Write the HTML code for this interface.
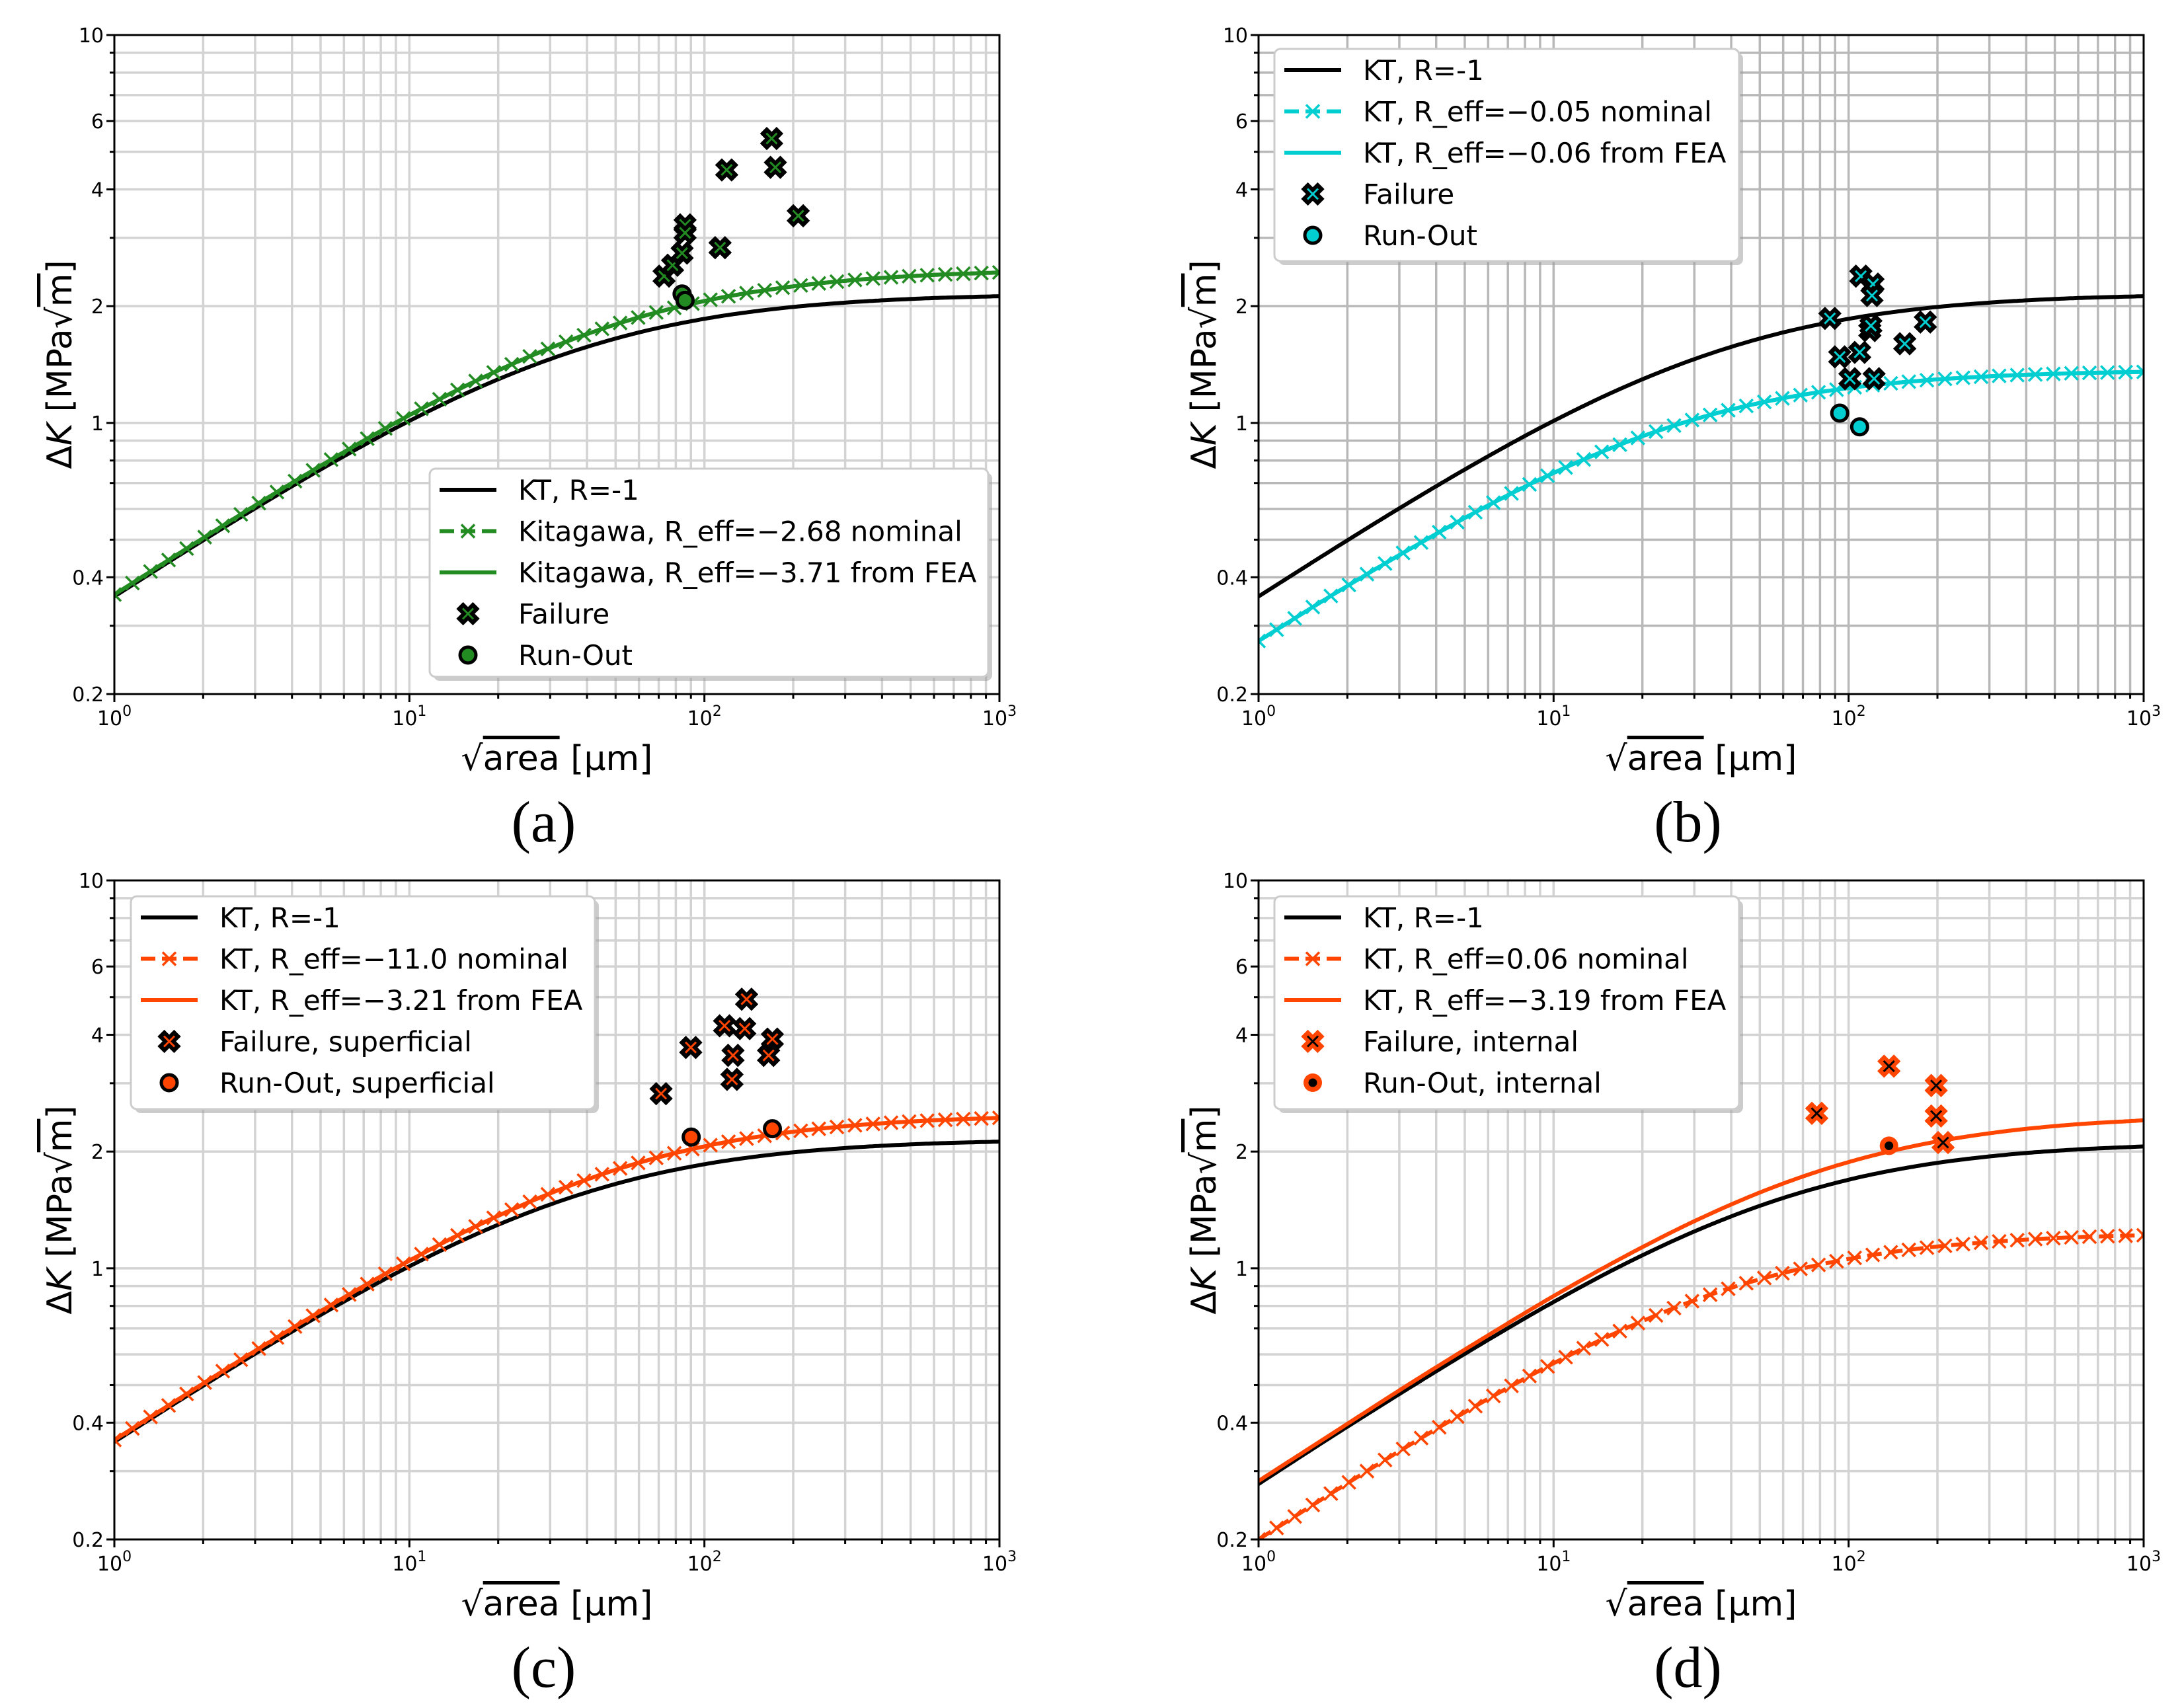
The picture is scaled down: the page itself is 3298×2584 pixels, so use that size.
<!DOCTYPE html>
<html><head><meta charset="utf-8"><style>
html,body{margin:0;padding:0;background:#fff;}
svg{display:block;}
</style></head><body>
<svg id="fig" xmlns="http://www.w3.org/2000/svg" width="3298" height="2584" viewBox="0 0 3298 2584"></svg>
<script>
// ---------- data ----------
const xSamples = [1,1.778,3.162,5.623,10,17.78,31.62,56.23,100,177.8,316.2,562.3,1000];
const ktBase = [0.357,0.471,0.617,0.798,1.012,1.247,1.481,1.690,1.855,1.972,2.048,2.095,2.122];
const kitaGreen = [0.361,0.477,0.628,0.817,1.047,1.310,1.585,1.845,2.062,2.223,2.333,2.402,2.443];
const cyanNominal = [0.274,0.360,0.467,0.597,0.743,0.894,1.033,1.147,1.230,1.286,1.321,1.342,1.354];
const orangeC = [0.361,0.477,0.628,0.817,1.047,1.310,1.585,1.845,2.062,2.223,2.333,2.402,2.443];
const ktD = [0.278,0.369,0.486,0.635,0.819,1.034,1.266,1.494,1.692,1.845,1.951,2.020,2.062];
const orangeFeaD = [0.283,0.375,0.497,0.652,0.848,1.082,1.348,1.624,1.879,2.088,2.241,2.344,2.408];
const orangeNomD = [0.200,0.264,0.346,0.448,0.569,0.703,0.839,0.960,1.057,1.127,1.172,1.201,1.217];

const failAx = [73,78,84,86,86,113,119,169,174,208];
const failAy = [2.39,2.55,2.74,3.24,3.09,2.83,4.49,5.41,4.56,3.42];
const runAx = [84,86];
const runAy = [2.15,2.07];

const failBx = [110,121,120,86.4,118,119,182,155,93.3,109,101,122];
const failBy = [2.39,2.28,2.13,1.86,1.73,1.78,1.82,1.60,1.48,1.52,1.30,1.30];
const runBx = [93.3,109];
const runBy = [1.06,0.977];

const failCx = [139,117,137,170,165,89.9,125,124,71.3];
const failCy = [4.94,4.22,4.15,3.90,3.54,3.71,3.54,3.07,2.82];
const runCx = [90.2,170];
const runCy = [2.18,2.29];

const failDx = [78,137,198,198,209];
const failDy = [2.51,3.32,2.96,2.47,2.11];
const runDx = [137];
const runDy = [2.07];

const yTickVals = [0.2,0.4,1,2,4,6,10];
const yTickLabels = ["0.2","0.4","1","2","4","6","10"];
const xTickExp = [0,1,2,3];

// ---------- helpers ----------
const NS = "http://www.w3.org/2000/svg";
const svg = document.getElementById('fig');
function mk(tag, attrs, parent) {
  const e = document.createElementNS(NS, tag);
  for (const k in attrs) e.setAttribute(k, attrs[k]);
  (parent || svg).appendChild(e);
  return e;
}
const W = 1339, H = 997;
const BLACK = "#000", GREEN = "#228B22", CYAN = "#00CED1", ORANGE = "#FF4500";

function interpLog(vals, x) {
  const t = Math.log10(x) * 4;
  const n = vals.length;
  let i = Math.floor(t); if (i >= n - 1) i = n - 2; if (i < 0) i = 0;
  const u = t - i;
  const L = vals.map(v => Math.log10(v));
  const p0 = L[Math.max(i - 1, 0)], p1 = L[i], p2 = L[i + 1], p3 = L[Math.min(i + 2, n - 1)];
  const m1 = (p2 - p0) / (i === 0 ? 1 : 2), m2 = (p3 - p1) / (i + 1 === n - 1 ? 1 : 2);
  const u2 = u * u, u3 = u2 * u;
  const v = (2*u3 - 3*u2 + 1) * p1 + (u3 - 2*u2 + u) * m1 + (-2*u3 + 3*u2) * p2 + (u3 - u2) * m2;
  return Math.pow(10, v);
}

function drawX(g, cx, cy, fill, inner) {
  const r = 17, a = 6.5;
  const pts = [[-a,-r],[a,-r],[a,-a],[r,-a],[r,a],[a,a],[a,r],[-a,r],[-a,a],[-r,a],[-r,-a],[-a,-a]];
  const c = Math.SQRT1_2;
  const s = pts.map(p => ((p[0]-p[1])*c + cx).toFixed(1) + "," + ((p[0]+p[1])*c + cy).toFixed(1)).join(" ");
  mk('polygon', {points: s, fill: fill, stroke: fill, 'stroke-width': 1.5, 'stroke-linejoin': 'miter'}, g);
  const d = 8;
  mk('path', {d: `M${cx-d},${cy-d}L${cx+d},${cy+d}M${cx-d},${cy+d}L${cx+d},${cy-d}`, stroke: inner, 'stroke-width': 3, fill: 'none'}, g);
}
function drawRun(g, cx, cy, color, internal) {
  if (internal) {
    mk('circle', {cx: cx, cy: cy, r: 14, fill: color}, g);
    mk('circle', {cx: cx, cy: cy, r: 6.5, fill: BLACK}, g);
  } else {
    mk('circle', {cx: cx, cy: cy, r: 12, fill: color, stroke: BLACK, 'stroke-width': 5}, g);
  }
}
function drawXmark(g, cx, cy, color) {
  const d = 10;
  mk('path', {d: `M${cx-d},${cy-d}L${cx+d},${cy+d}M${cx-d},${cy+d}L${cx+d},${cy-d}`, stroke: color, 'stroke-width': 3.5, fill: 'none'}, g);
}

function panel(cfg) {
  const x0 = cfg.x0, y0 = cfg.y0;
  const sx = v => x0 + Math.log10(v) / 3 * W;
  const sy = v => y0 + (1 - Math.log10(v / 0.2) / Math.log10(50)) * H;
  const g = mk('g', {});
  
  
  const clipId = 'clip-' + cfg.name;
  const cp = mk('clipPath', {id: clipId}, g);
  mk('rect', {x: x0, y: y0, width: W, height: H}, cp);

  const grid = mk('g', {stroke: cfg.grid, 'stroke-width': 3.5});
  
  
  g.appendChild(grid);
  for (let e = 0; e < 3; e++) for (let m = 1; m <= 9; m++) {
    const v = m * Math.pow(10, e); if (v === 1) continue;
    mk('line', {x1: sx(v), x2: sx(v), y1: y0, y2: y0 + H}, grid);
  }
  const yg = [0.3,0.4,0.5,0.6,0.7,0.8,0.9,1,2,3,4,5,6,7,8,9];
  yg.forEach(v => mk('line', {x1: x0, x2: x0 + W, y1: sy(v), y2: sy(v)}, grid));

  const plot = mk('g', {'clip-path': `url(#${clipId})`}, g);
  cfg.series.forEach(s => {
    let d = "";
    for (let i = 0; i <= 300; i++) {
      const xv = Math.pow(10, 3 * i / 300);
      d += (i ? "L" : "M") + sx(xv).toFixed(1) + "," + sy(interpLog(s.vals, xv)).toFixed(1);
    }
    const p = mk('path', {d: d, fill: 'none', stroke: s.color, 'stroke-width': 6, 'stroke-linejoin': 'round'}, plot);
    if (s.dashed) p.setAttribute('stroke-dasharray', '22,10');
    
    
    if (s.markers) {
      for (let i = 0; i < 50; i++) {
        const xv = Math.pow(10, 3 * i / 49);
        drawXmark(plot, sx(xv), sy(interpLog(s.vals, xv)), s.color);
      }
    }
  });
  const sc = mk('g', {}, g);
  
  
  cfg.failX.forEach((xv, i) => {
    if (cfg.internal) drawX(sc, sx(xv), sy(cfg.failY[i]), cfg.color, BLACK);
    else drawX(sc, sx(xv), sy(cfg.failY[i]), BLACK, cfg.color);
  });
  cfg.runX.forEach((xv, i) => drawRun(sc, sx(xv), sy(cfg.runY[i]), cfg.color, cfg.internal));

  const fr = mk('rect', {x: x0, y: y0, width: W, height: H, fill: 'none', stroke: BLACK, 'stroke-width': 3});
  
  
  g.appendChild(fr);

  const tk = mk('g', {stroke: BLACK, 'stroke-width': 3}, g);
  for (let e = 0; e < 3; e++) for (let m = 2; m <= 9; m++) {
    const xx = sx(m * Math.pow(10, e));
    mk('line', {x1: xx, x2: xx, y1: y0 + H, y2: y0 + H + 7}, tk);
  }
  xTickExp.forEach(e => { const xx = sx(Math.pow(10, e)); mk('line', {x1: xx, x2: xx, y1: y0 + H, y2: y0 + H + 12}, tk); });
  [0.3,0.5,0.7,0.8,0.9,3,5,7,8,9].forEach(v => mk('line', {x1: x0 - 7, x2: x0, y1: sy(v), y2: sy(v)}, tk));
  yTickVals.forEach(v => mk('line', {x1: x0 - 12, x2: x0, y1: sy(v), y2: sy(v)}, tk));

  yTickVals.forEach((v, i) => {
    const t = mk('text', {x: x0 - 16, y: sy(v) + 11, 'text-anchor': 'end', 'font-family': 'DejaVu Sans, Liberation Sans, sans-serif', 'font-size': 30, fill: BLACK}, g);
    t.textContent = yTickLabels[i];
    
    
  });
  xTickExp.forEach(e => {
    const t = mk('text', {x: sx(Math.pow(10, e)), y: y0 + H + 47, 'text-anchor': 'middle', 'font-family': 'DejaVu Sans, Liberation Sans, sans-serif', 'font-size': 30, fill: BLACK}, g);
    
    
    const a = mk('tspan', {}, t); a.textContent = "10";
    const b = mk('tspan', {dy: -14, 'font-size': 22}, t); b.textContent = String(e);
  });

  const yl = mk('text', {x: 0, y: 0, transform: `translate(${x0 - 65},${y0 + H / 2}) rotate(-90)`, 'text-anchor': 'middle', 'font-family': 'DejaVu Sans, Liberation Sans, sans-serif', 'font-size': 52, fill: BLACK}, g);
  
  
  mk('tspan', {}, yl).textContent = "Δ";
  mk('tspan', {'font-style': 'italic'}, yl).textContent = "K";
  mk('tspan', {}, yl).textContent = " [MPa√";
  mk('tspan', {'text-decoration': 'overline'}, yl).textContent = "m";
  mk('tspan', {}, yl).textContent = "]";

  const xl = mk('text', {x: x0 + W / 2, y: y0 + H + 115, 'text-anchor': 'middle', 'font-family': 'DejaVu Sans, Liberation Sans, sans-serif', 'font-size': 52, fill: BLACK}, g);
  
  
  mk('tspan', {}, xl).textContent = "√";
  mk('tspan', {'text-decoration': 'overline'}, xl).textContent = "area";
  mk('tspan', {}, xl).textContent = " [μm]";

  const cap = mk('text', {x: x0 + W / 2 - 20, y: y0 + H + 223, 'text-anchor': 'middle', 'font-family': 'Liberation Serif, serif', 'font-size': 88, fill: BLACK}, g);
  cap.textContent = cfg.caption;
  
  

  const L = cfg.legend;
  const lg = mk('g', {}, g);
  
  
  mk('rect', {x: L.x + 6, y: L.y + 6, width: L.w, height: L.h, rx: 9, fill: '#999', opacity: 0.5}, lg);
  mk('rect', {x: L.x, y: L.y, width: L.w, height: L.h, rx: 9, fill: '#fff', stroke: '#cccccc', 'stroke-width': 3}, lg);
  L.items.forEach((it, i) => {
    const cy = L.y + 32 + i * 62.5;
    const lx1 = L.x + 15, lx2 = L.x + 101, lc = (lx1 + lx2) / 2;
    const e = mk('g', {}, lg);
    
    
    if (it.type === 'line') mk('line', {x1: lx1, x2: lx2, y1: cy, y2: cy, stroke: it.color, 'stroke-width': 6}, e);
    if (it.type === 'dashx') {
      mk('line', {x1: lx1, x2: lx2, y1: cy, y2: cy, stroke: it.color, 'stroke-width': 6, 'stroke-dasharray': '22,10'}, e);
      drawXmark(e, lc, cy, it.color);
    }
    if (it.type === 'fail') { if (cfg.internal) drawX(e, lc, cy, cfg.color, BLACK); else drawX(e, lc, cy, BLACK, cfg.color); }
    if (it.type === 'run') drawRun(e, lc, cy, cfg.color, cfg.internal);
    const t = mk('text', {x: L.x + 134, y: cy + 15, 'font-family': 'DejaVu Sans, Liberation Sans, sans-serif', 'font-size': 42, fill: BLACK}, e);
    t.textContent = it.text;
  });
}

panel({name: 'panel-a', x0: 173, y0: 53, grid: '#d3d3d3', caption: '(a)', color: GREEN, internal: false,
  series: [
    {vals: ktBase, color: BLACK, dname: 'kt-line'},
    {vals: kitaGreen, color: GREEN, dashed: true, markers: true, dname: 'kitagawa-nominal-line'},
    {vals: kitaGreen, color: GREEN, dname: 'kitagawa-fea-line'}],
  failX: failAx, failY: failAy, runX: runAx, runY: runAy,
  legend: {x: 650, y: 709, w: 845, h: 315, items: [
    {type: 'line', color: BLACK, text: 'KT, R=-1'},
    {type: 'dashx', color: GREEN, text: 'Kitagawa, R_eff=−2.68 nominal'},
    {type: 'line', color: GREEN, text: 'Kitagawa, R_eff=−3.71 from FEA'},
    {type: 'fail', text: 'Failure'},
    {type: 'run', text: 'Run-Out'}]}});

panel({name: 'panel-b', x0: 1904, y0: 53, grid: '#b8b8b8', caption: '(b)', color: CYAN, internal: false,
  series: [
    {vals: ktBase, color: BLACK, dname: 'kt-line'},
    {vals: cyanNominal, color: CYAN, dashed: true, markers: true, dname: 'kt-nominal-line'},
    {vals: cyanNominal, color: CYAN, dname: 'kt-fea-line'}],
  failX: failBx, failY: failBy, runX: runBx, runY: runBy,
  legend: {x: 1928, y: 74, w: 703, h: 321, items: [
    {type: 'line', color: BLACK, text: 'KT, R=-1'},
    {type: 'dashx', color: CYAN, text: 'KT, R_eff=−0.05 nominal'},
    {type: 'line', color: CYAN, text: 'KT, R_eff=−0.06 from FEA'},
    {type: 'fail', text: 'Failure'},
    {type: 'run', text: 'Run-Out'}]}});

panel({name: 'panel-c', x0: 173, y0: 1332, grid: '#d3d3d3', caption: '(c)', color: ORANGE, internal: false,
  series: [
    {vals: ktBase, color: BLACK, dname: 'kt-line'},
    {vals: orangeC, color: ORANGE, dashed: true, markers: true, dname: 'kt-nominal-line'},
    {vals: orangeC, color: ORANGE, dname: 'kt-fea-line'}],
  failX: failCx, failY: failCy, runX: runCx, runY: runCy,
  legend: {x: 198, y: 1356, w: 702, h: 322, items: [
    {type: 'line', color: BLACK, text: 'KT, R=-1'},
    {type: 'dashx', color: ORANGE, text: 'KT, R_eff=−11.0 nominal'},
    {type: 'line', color: ORANGE, text: 'KT, R_eff=−3.21 from FEA'},
    {type: 'fail', text: 'Failure, superficial'},
    {type: 'run', text: 'Run-Out, superficial'}]}});

panel({name: 'panel-d', x0: 1904, y0: 1332, grid: '#d3d3d3', caption: '(d)', color: ORANGE, internal: true,
  series: [
    {vals: ktD, color: BLACK, dname: 'kt-line'},
    {vals: orangeNomD, color: ORANGE, dashed: true, markers: true, dname: 'kt-nominal-line'},
    {vals: orangeFeaD, color: ORANGE, dname: 'kt-fea-line'}],
  failX: failDx, failY: failDy, runX: runDx, runY: runDy,
  legend: {x: 1928, y: 1356, w: 703, h: 322, items: [
    {type: 'line', color: BLACK, text: 'KT, R=-1'},
    {type: 'dashx', color: ORANGE, text: 'KT, R_eff=0.06 nominal'},
    {type: 'line', color: ORANGE, text: 'KT, R_eff=−3.19 from FEA'},
    {type: 'fail', text: 'Failure, internal'},
    {type: 'run', text: 'Run-Out, internal'}]}});
</script>
</body></html>
